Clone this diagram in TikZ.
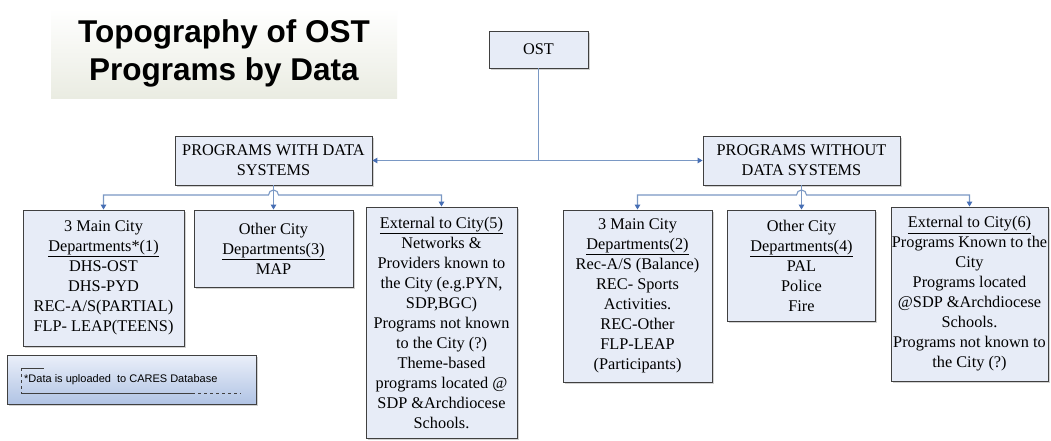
\documentclass[tikz,border=0pt]{standalone}
\usepackage{fontspec}
\setmainfont{Liberation Serif}
\newfontfamily\serifbox{Liberation Serif}
\newfontfamily\arialfont{Liberation Sans}
\usetikzlibrary{arrows.meta,shadows}
\definecolor{boxfill}{RGB}{231,236,247}
\definecolor{boxline}{RGB}{64,64,64}
\definecolor{conn}{RGB}{122,152,196}
\definecolor{tipc}{RGB}{70,110,180}
\definecolor{notetop}{RGB}{234,239,249}
\definecolor{notebot}{RGB}{176,195,228}
\definecolor{titlebot}{RGB}{234,236,226}
\begin{document}
\begin{tikzpicture}[x=1pt,y=-1pt,
  >={Triangle[length=5pt,width=5.5pt,color=tipc]},
  orgbox/.style={draw=boxline, fill=boxfill, line width=0.9pt, align=center,
    inner sep=0.5pt, font=\serifbox\fontsize{16.3}{20}\selectfont,
    drop shadow={shadow xshift=1.5pt,shadow yshift=-1.5pt,opacity=0.35}},
  conline/.style={draw=conn, line width=1.1pt}
]
\useasboundingbox (0,0) rectangle (1051,440);
\fill[white] (0,0) rectangle (1051,440);

% title
\node[shade, top color=white, bottom color=titlebot, minimum width=346pt,
  minimum height=90pt, align=center, inner sep=0pt,
  font=\arialfont\bfseries\fontsize{31.5}{38}\selectfont] (title) at (224,53)
  {Topography of OST\\Programs by Data};

% boxes
\node[orgbox, minimum width=99pt, minimum height=37pt] (ost) at (538.5,49.5) {OST};
\node[orgbox, minimum width=197pt, minimum height=49pt] (pw) at (273.5,160.5)
  {PROGRAMS WITH DATA\\SYSTEMS};
\node[orgbox, minimum width=197pt, minimum height=49pt] (pwo) at (801.5,160.5)
  {PROGRAMS WITHOUT\\DATA SYSTEMS};

\node[orgbox, minimum width=161pt, minimum height=136pt] (c1) at (103.5,278)
  {3 Main City\\\underline{Departments*(1)}\\DHS-OST\\DHS-PYD\\REC-A/S(PARTIAL)\\FLP- LEAP(TEENS)};
\node[orgbox, minimum width=159pt, minimum height=77pt] (c2) at (273.5,248.5)
  {Other City\\\underline{Departments(3)}\\MAP};
\node[orgbox, minimum width=151pt, minimum height=231pt] (c3) at (441.5,322.5)
  {\underline{External to City(5)}\\Networks \&\\Providers known to\\the City (e.g.PYN,\\SDP,BGC)\\Programs not known\\to the City (?)\\Theme-based\\programs located @\\SDP \&Archdiocese\\Schools.};

\node[orgbox, minimum width=149pt, minimum height=172pt] (d1) at (637.5,296)
  {3 Main City\\\underline{Departments(2)}\\Rec-A/S (Balance)\\REC- Sports\\Activities.\\REC-Other\\FLP-LEAP\\(Participants)};
\node[orgbox, minimum width=148pt, minimum height=111pt] (d2) at (801.5,265.5)
  {Other City\\\underline{Departments(4)}\\PAL\\Police\\Fire};
\node[orgbox, minimum width=157pt, minimum height=174pt] (d3) at (969.5,294)
  {\underline{External to City(6)}\\Programs Known to the\\City\\Programs located\\@SDP \&Archdiocese\\Schools.\\Programs not known to\\the City (?)};

% note box
\node[draw=boxline, line width=0.9pt, top color=notetop, bottom color=notebot,
  minimum width=249pt, minimum height=49pt,
  drop shadow={shadow xshift=1.5pt,shadow yshift=-1.5pt,opacity=0.35}] (note) at (131.5,380) {};
\draw[black!75, line width=0.6pt] (21,368) -- (44,368);
\draw[black!75, line width=0.6pt, dashed] (21,368) -- (21,393);
\draw[black!75, line width=0.6pt] (21,393) -- (192,393);
\draw[black!75, line width=0.6pt, dashed] (192,393) -- (241,393);
\node[anchor=west, inner sep=0pt, font=\arialfont\fontsize{11}{13}\selectfont] (notetext) at (24,380)
  {*Data is uploaded\ \ to CARES Database};

% connectors
\coordinate (jct) at (ost.south |- pw.east);
\draw[conline] (ost.south) -- (jct);
\draw[conline,<->] (pw.east) -- (pwo.west);

\coordinate (hopL) at (268.5,195);
\draw[conline,<->] (c1.north) |- (hopL) arc[start angle=180,end angle=0,radius=5pt] -| (c3.north);
\draw[conline,->] (pw.south) -- (c2.north);

\coordinate (hopR) at (796.5,195);
\draw[conline,<->] (d1.north) |- (hopR) arc[start angle=180,end angle=0,radius=5pt] -| (d3.north);
\draw[conline,->] (pwo.south) -- (d2.north);
\end{tikzpicture}
\end{document}
